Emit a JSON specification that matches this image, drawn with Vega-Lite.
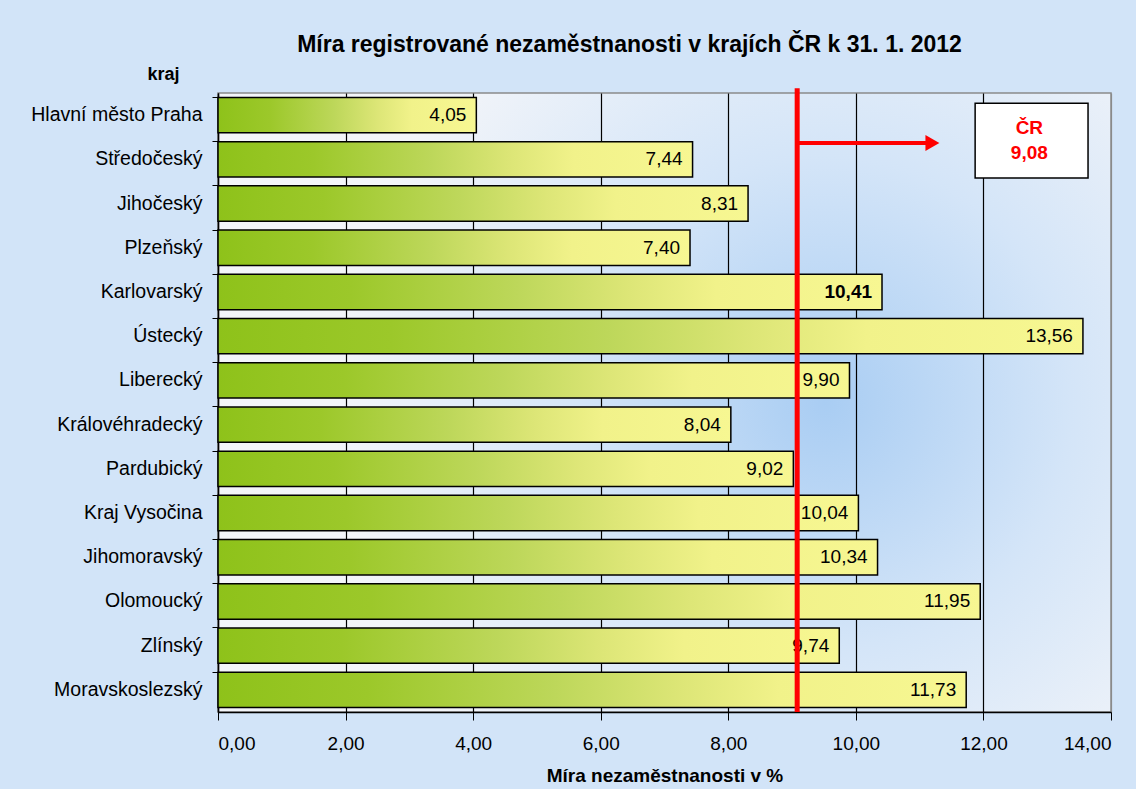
{
  "$schema": "https://vega.github.io/schema/vega-lite/v6.json",
  "width": 893,
  "height": 619,
  "autosize": {"type": "none"},
  "padding": {"left": 218, "top": 93, "right": 25, "bottom": 77},
  "background": "#d2e4f8",
  "title": {
    "text": "Míra registrované nezaměstnanosti v krajích ČR k 31. 1. 2012",
    "fontSize": 23,
    "fontWeight": "bold",
    "font": "Liberation Sans",
    "color": "#000000",
    "anchor": "middle",
    "frame": "group",
    "dx": -35,
    "offset": 8
  },
  "config": {
    "font": "Liberation Sans",
    "locale": {"number": {"decimal": ",", "thousands": " ", "grouping": [3], "currency": ["", " Kč"]}},
    "view": {
      "stroke": "#8a8a8a",
      "strokeWidth": 1.5,
      "fill": {
        "gradient": "radial",
        "x1": 0.68, "y1": 0.5, "r1": 0,
        "x2": 0.68, "y2": 0.5, "r2": 0.55,
        "stops": [
          {"offset": 0, "color": "#a9cdf3"},
          {"offset": 0.5, "color": "#d4e5f8"},
          {"offset": 1, "color": "#f3f5f9"}
        ]
      }
    }
  },
  "layer": [
    {
      "data": {
        "values": [
          {"kraj": "Hlavní město Praha", "mira": 4.05},
          {"kraj": "Středočeský", "mira": 7.44},
          {"kraj": "Jihočeský", "mira": 8.31},
          {"kraj": "Plzeňský", "mira": 7.40},
          {"kraj": "Karlovarský", "mira": 10.41},
          {"kraj": "Ústecký", "mira": 13.56},
          {"kraj": "Liberecký", "mira": 9.90},
          {"kraj": "Královéhradecký", "mira": 8.04},
          {"kraj": "Pardubický", "mira": 9.02},
          {"kraj": "Kraj Vysočina", "mira": 10.04},
          {"kraj": "Jihomoravský", "mira": 10.34},
          {"kraj": "Olomoucký", "mira": 11.95},
          {"kraj": "Zlínský", "mira": 9.74},
          {"kraj": "Moravskoslezský", "mira": 11.73}
        ]
      },
      "encoding": {
        "y": {
          "field": "kraj",
          "type": "nominal",
          "sort": null,
          "scale": {"paddingInner": 0.2, "paddingOuter": 0.1},
          "axis": {
            "title": "kraj",
            "titleAngle": 0,
            "titleAlign": "center",
            "titleBaseline": "middle",
            "titleX": -55,
            "titleY": -19,
            "titleFontSize": 18,
            "titleFontWeight": "bold",
            "titleColor": "#000000",
            "labelFontSize": 19.5,
            "labelColor": "#000000",
            "labelPadding": 10,
            "bandPosition": 0,
            "tickColor": "#000000",
            "tickSize": 6,
            "domainColor": "#000000",
            "domainWidth": 1.5,
            "grid": false
          }
        },
        "x": {
          "field": "mira",
          "type": "quantitative",
          "scale": {"domain": [0, 14], "nice": false, "zero": true},
          "axis": {
            "title": "Míra nezaměstnanosti v %",
            "titleFontSize": 19,
            "titleFontWeight": "bold",
            "titleColor": "#000000",
            "titlePadding": 13,
            "values": [0, 2, 4, 6, 8, 10, 12, 14],
            "format": ".2f",
            "labelFontSize": 19,
            "labelColor": "#000000",
            "labelPadding": 14,
            "tickColor": "#000000",
            "tickSize": 8,
            "domainColor": "#000000",
            "domainWidth": 1.5,
            "grid": true,
            "gridColor": {"condition": {"test": "datum.value == 14", "value": "#8a8a8a"}, "value": "#000000"},
            "gridWidth": 1.2,
            "gridOpacity": 1
          }
        }
      },
      "layer": [
        {
          "mark": {
            "type": "bar",
            "stroke": "#000000",
            "strokeWidth": 1.5,
            "color": {
              "gradient": "linear",
              "x1": 0, "y1": 0, "x2": 1, "y2": 0,
              "stops": [
                {"offset": 0, "color": "#8ec21a"},
                {"offset": 0.2, "color": "#9cc82a"},
                {"offset": 0.45, "color": "#bdd75a"},
                {"offset": 0.62, "color": "#dde677"},
                {"offset": 0.75, "color": "#f1f28a"},
                {"offset": 1, "color": "#f7f792"}
              ]
            }
          }
        },
        {
          "transform": [{"filter": "datum.kraj !== 'Karlovarský'"}],
          "mark": {"type": "text", "align": "right", "baseline": "middle", "dx": -10, "fontSize": 19, "color": "#000000"},
          "encoding": {"text": {"field": "mira", "type": "quantitative", "format": ".2f"}}
        },
        {
          "transform": [{"filter": "datum.kraj === 'Karlovarský'"}],
          "mark": {"type": "text", "align": "right", "baseline": "middle", "dx": -10, "fontSize": 19, "fontWeight": "bold", "color": "#000000"},
          "encoding": {"text": {"field": "mira", "type": "quantitative", "format": ".2f"}}
        }
      ]
    },
    {
      "encoding": {
        "y": {"type": "quantitative", "scale": {"domain": [0, 14], "reverse": true, "nice": false, "zero": false}, "axis": null}
      },
      "layer": [
        {
          "data": {"values": [{"cr": 9.08, "top": -0.11, "bottom": 14}]},
          "mark": {"type": "rule", "color": "#ff0000", "strokeWidth": 5},
          "encoding": {
            "x": {"field": "cr", "type": "quantitative"},
            "y": {"field": "top", "type": "quantitative"},
            "y2": {"field": "bottom"}
          }
        },
        {
          "data": {"values": [{"from": 9.08, "to": 11.12, "row": 1.13}]},
          "mark": {"type": "rule", "color": "#ff0000", "strokeWidth": 4},
          "encoding": {
            "x": {"field": "from", "type": "quantitative"},
            "x2": {"field": "to"},
            "y": {"field": "row", "type": "quantitative"}
          }
        },
        {
          "data": {"values": [{"tip": 11.2, "row": 1.13}]},
          "mark": {"type": "point", "shape": "triangle-right", "filled": true, "color": "#ff0000", "opacity": 1, "size": 260},
          "encoding": {
            "x": {"field": "tip", "type": "quantitative"},
            "y": {"field": "row", "type": "quantitative"}
          }
        },
        {
          "data": {"values": [{"x1": 11.87, "x2": 13.64, "y1": 0.23, "y2": 1.92}]},
          "mark": {"type": "rect", "fill": "#ffffff", "stroke": "#000000", "strokeWidth": 1.5},
          "encoding": {
            "x": {"field": "x1", "type": "quantitative"},
            "x2": {"field": "x2"},
            "y": {"field": "y1", "type": "quantitative"},
            "y2": {"field": "y2"}
          }
        },
        {
          "data": {"values": [{"t": "ČR", "xp": 12.72, "row": 0.79}, {"t": "9,08", "xp": 12.72, "row": 1.36}]},
          "mark": {"type": "text", "color": "#ff0000", "fontWeight": "bold", "fontSize": 19, "align": "center", "baseline": "middle"},
          "encoding": {
            "x": {"field": "xp", "type": "quantitative"},
            "y": {"field": "row", "type": "quantitative"},
            "text": {"field": "t", "type": "nominal"}
          }
        }
      ]
    }
  ],
  "resolve": {"scale": {"y": "independent"}, "axis": {"y": "independent"}}
}
